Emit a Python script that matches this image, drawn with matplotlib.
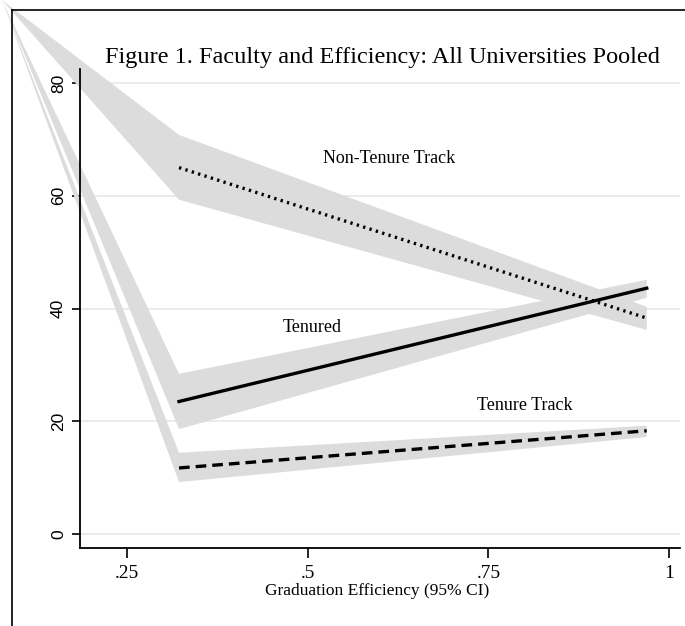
import matplotlib
matplotlib.use("Agg")
import matplotlib.pyplot as plt
from matplotlib.lines import Line2D

# graduation efficiency at the two ends of each fitted line
x = [0.322, 0.969]

nontenure = [65.0, 38.3]
nontenure_lo = [59.3, 36.2]
nontenure_hi = [70.8, 40.3]

tenured = [23.5, 43.6]
tenured_lo = [18.6, 41.9]
tenured_hi = [28.4, 45.1]

tenuretrack = [11.7, 18.3]
tenuretrack_lo = [9.2, 17.2]
tenuretrack_hi = [14.4, 19.2]

xticks = [0.25, 0.5, 0.75, 1.0]
xticklabels = [".25", ".5", ".75", "1"]
yticks = [0, 20, 40, 60, 80]

serif = "Liberation Serif"
band_color = "#dcdcdc"

fig = plt.figure(figsize=(6.85, 6.26), dpi=100)
ax = fig.add_axes([80 / 685, 1 - 548 / 626, 600 / 685, 479 / 626])
ax.set_xlim(0.185, 1.015)
ax.set_ylim(-2.5, 82.5)

ax.set_yticks(yticks)
ax.set_yticklabels([str(v) for v in yticks], rotation=90, va="center",
                   family="Liberation Sans", fontsize=12.5)
ax.set_xticks(xticks)
ax.set_xticklabels(xticklabels, family=serif, fontsize=14)
ax.tick_params(axis="y", length=6, width=1.2, pad=4)
ax.tick_params(axis="x", length=7, width=1.2, pad=5)
for side in ["top", "right"]:
    ax.spines[side].set_visible(False)
for side in ["left", "bottom"]:
    ax.spines[side].set_linewidth(1.3)
ax.grid(axis="y", color="#e8e8e8", linewidth=1.2)
ax.set_axisbelow(True)

# the bands in the original all start from the top-left corner of the page
corner = ax.transData.inverted().transform(
    fig.transFigure.transform((2 / 685, 1.0)))

def band(lo, hi):
    px = [corner[0], x[0], x[1], x[1], x[0]]
    py = [corner[1], hi[0], hi[1], lo[1], lo[0]]
    ax.fill(px, py, color=band_color, linewidth=0, clip_on=False, zorder=1)

band(nontenure_lo, nontenure_hi)
band(tenured_lo, tenured_hi)
band(tenuretrack_lo, tenuretrack_hi)

ax.plot(x, nontenure, color="black", linewidth=2.4,
        linestyle=(0, (0.7, 1.3)), dash_capstyle="butt", zorder=3)
ax.plot(x, tenured, color="black", linewidth=2.4, zorder=3)
ax.plot(x, tenuretrack, color="black", linewidth=2.4,
        linestyle=(0, (3.2, 1.8)), zorder=3)

ax.text(0.612, 66.7, "Non-Tenure Track", family=serif, fontsize=13,
        ha="center", va="center")
ax.text(0.506, 36.6, "Tenured", family=serif, fontsize=13,
        ha="center", va="center")
ax.text(0.801, 22.7, "Tenure Track", family=serif, fontsize=13,
        ha="center", va="center")

fig.text(382 / 685, 1 - 58 / 626,
         "Figure 1. Faculty and Efficiency: All Universities Pooled",
         family=serif, fontsize=17.5, ha="center", va="center")
fig.text(377 / 685, 1 - 591 / 626, "Graduation Efficiency (95% CI)",
         family=serif, fontsize=12.5, ha="center", va="center")

# outer frame lines
fig.add_artist(Line2D([12 / 685, 1.0], [1 - 10 / 626, 1 - 10 / 626],
                      color="black", linewidth=1.2))
fig.add_artist(Line2D([12 / 685, 12 / 685], [1 - 10 / 626, 0.0],
                      color="black", linewidth=1.2))

fig.savefig("out.png", dpi=100)
